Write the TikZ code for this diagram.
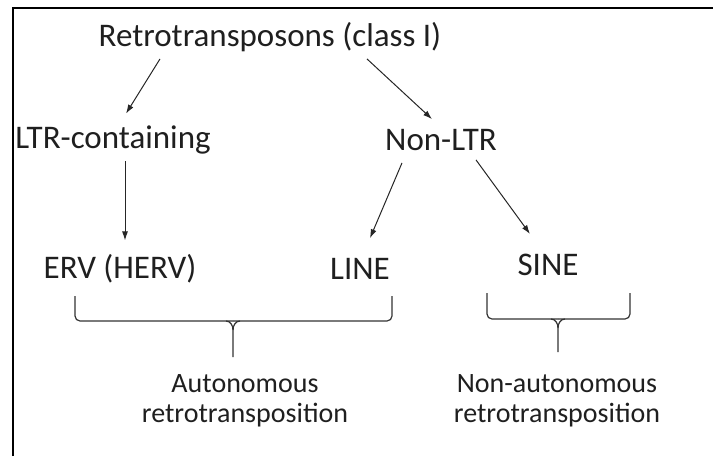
\documentclass[tikz,border=0pt]{standalone}
\usepackage{fontspec}
\setmainfont{Carlito}
\usetikzlibrary{arrows.meta}

\begin{document}
\begin{tikzpicture}[x=1pt,y=-1pt,
	lbl/.style={inner sep=0pt,text=black!88,font=\fontsize{33pt}{36pt}\selectfont},
	sub/.style={inner sep=0pt,text=black!88,align=center,font=\fontsize{28pt}{30pt}\selectfont},
	arr/.style={black!85,line width=1pt,-{Latex[length=9pt,width=6pt]}},
	brace/.style={black!80,line width=1.2pt,rounded corners=5pt}]
	\useasboundingbox (0,0) rectangle (713,456);
	% frame
	\draw[line width=2pt] (12.5,456) -- (12.5,7.5) -- (713,7.5);

	% tree
	\node[lbl] (root) at (270,37) {Retrotransposons (class I)};
	\node[lbl] (ltr) at (113,140) {LTR-containing};
	\node[lbl] (nonltr) at (441,140) {Non-LTR};
	\node[lbl] (erv) at (120,269) {ERV (HERV)};
	\node[lbl] (line) at (360,269) {LINE};
	\node[lbl] (sine) at (548,265) {SINE};

	\draw[arr] ([xshift=-110pt,yshift=-7pt]root.south) -- ([xshift=13pt,yshift=12pt]ltr.north);
	\draw[arr] ([xshift=97pt,yshift=-7pt]root.south) -- ([xshift=-9pt,yshift=10pt]nonltr.north);
	\draw[arr] ([xshift=12pt,yshift=-7pt]ltr.south) -- ([xshift=5pt,yshift=14pt]erv.north);
	\draw[arr] ([xshift=-39pt,yshift=-12pt]nonltr.south) -- ([xshift=10pt,yshift=20pt]line.north);
	\draw[arr] ([xshift=35pt,yshift=-9pt]nonltr.south) -- ([xshift=-18pt,yshift=20pt]sine.north);

	% braces
	\draw[brace] (75,296) -- (75,321) -- (233,321);
	\draw[brace] (233,321) -- (392,321) -- (392,296);
	\draw[black!80,line width=1.2pt] (226,321) to[out=0,in=90] (233,330) -- (233,357);
	\draw[black!80,line width=1.2pt] (240,321) to[out=180,in=90] (233,330);
	\draw[brace] (487,293) -- (487,319) -- (558,319);
	\draw[brace] (558,319) -- (630,319) -- (630,293);
	\draw[black!80,line width=1.2pt] (551,319) to[out=0,in=90] (558,328) -- (558,352);
	\draw[black!80,line width=1.2pt] (565,319) to[out=180,in=90] (558,328);

	\node[sub] (auto) at (245,401) {Autonomous\\retrotransposition};
	\node[sub] (nonauto) at (557,401) {Non-autonomous\\retrotransposition};
\end{tikzpicture}
\end{document}
